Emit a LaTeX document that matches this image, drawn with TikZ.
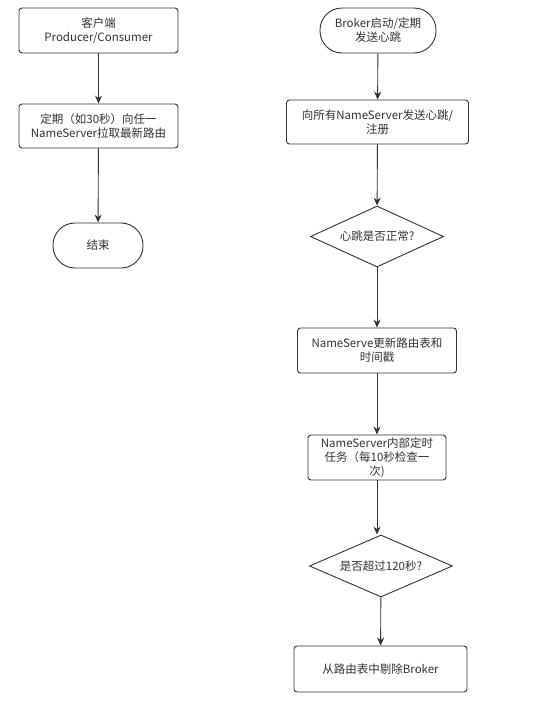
\documentclass[tikz,border=0pt]{standalone}
\usepackage{fontspec}
\setmainfont{Noto Sans CJK SC}
\usetikzlibrary{shapes.geometric,arrows.meta}
\definecolor{ln}{HTML}{333333}
\definecolor{tx}{HTML}{333333}
\begin{document}
\begin{tikzpicture}[x=1pt,y=-1pt,
  every node/.style={font=\fontsize{11.5}{14}\selectfont, text=tx, align=center, inner sep=0pt},
  box/.style={draw=ln, line width=0.9pt, rounded corners=3pt, fill=white},
  term/.style={draw=ln, line width=0.9pt, rounded corners=22pt, fill=white},
  dec/.style={draw=ln, line width=0.9pt, diamond, fill=white},
  arr/.style={draw=ln, line width=0.9pt, -{Stealth[length=8pt,width=7pt]}}]
\useasboundingbox (0,0) rectangle (543,704);
\fill[white] (0,0) rectangle (543,704);
% left column
\node[box, minimum width=159pt, minimum height=45pt] (c1) at (98.5,30.5) {客户端\\Producer/Consumer};
\node[box, minimum width=159pt, minimum height=44pt] (c2) at (98.5,126) {定期（如30秒）向任一\\NameServer拉取最新路由};
\node[term, minimum width=90pt, minimum height=45pt] (c3) at (98,245.5) {结束};
% right column
\node[term, minimum width=116pt, minimum height=45pt] (b1) at (378,30.5) {Broker启动/定期\\发送心跳};
\node[box, minimum width=182pt, minimum height=44pt] (b2) at (377.5,122) {向所有NameServer发送心跳/\\注册};
\node[dec, aspect=2.18, minimum width=133pt, minimum height=61pt] (d1) at (377,236.5) {心跳是否正常?};
\node[box, minimum width=159pt, minimum height=45pt] (b3) at (377,350.5) {NameServe更新路由表和\\时间戳};
\node[box, minimum width=138pt, minimum height=45pt] (b4) at (377,457.5) {NameServer内部定时\\任务（每10秒检查一\\次)};
\node[dec, aspect=2.3, minimum width=143pt, minimum height=62pt] (d2) at (381,566) {是否超过120秒?};
\node[box, minimum width=173pt, minimum height=46pt] (b5) at (380.5,669) {从路由表中剔除Broker};
% connectors
\draw[arr] (c1) -- (c2);
\draw[arr] (c2) -- (c3);
\draw[arr] (b1) -- (b2);
\draw[arr] (b2) -- (d1);
\draw[arr] (d1) -- (b3);
\draw[arr] (b3) -- (b4);
\draw[arr] (b4.south) -- (b4.south |- d2.north);
\draw[arr] (d2) -- (b5);
\end{tikzpicture}
\end{document}
